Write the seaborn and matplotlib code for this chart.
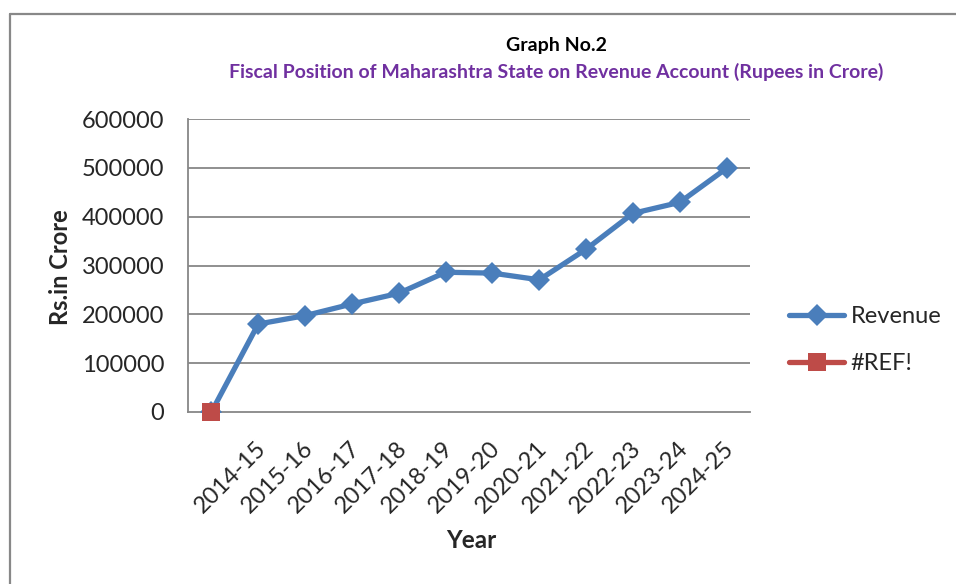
import numpy as np
import pandas as pd
import matplotlib
matplotlib.use("Agg")
import matplotlib.pyplot as plt
import matplotlib.transforms as mtransforms
from matplotlib.lines import Line2D
import seaborn as sns

# ---- data ----
categories = ["", "2014-15", "2015-16", "2016-17", "2017-18", "2018-19", "2019-20",
              "2020-21", "2021-22", "2022-23", "2023-24", "2024-25"]
revenue = [0, 180200, 197300, 221200, 243100, 286200, 284400, 270700,
           333300, 406800, 429300, 499000]
ref_err = [0] + [np.nan] * 11
y_ticks = [0, 100000, 200000, 300000, 400000, 500000, 600000]

title_top = "Graph No.2"
title_sub = "Fiscal Position of Maharashtra State on Revenue Account (Rupees in Crore)"
x_label = "Year"
y_label = "Rs.in Crore"

sns.set_style("white")
plt.rcParams["font.family"] = ["Lato", "DejaVu Sans"]

BLUE = "#4A7EBB"
RED = "#BE4B48"
GRID = "#878787"

pos = np.arange(len(categories))
df_rev = pd.DataFrame({"pos": pos, "value": revenue})
df_ref = pd.DataFrame({"pos": pos, "value": ref_err})

fig = plt.figure(figsize=(9.56, 5.84), dpi=100)
ax = fig.add_axes([188 / 956, 1 - 412 / 584, (750 - 188) / 956, (412 - 119) / 584])

sns.lineplot(data=df_rev, x="pos", y="value", ax=ax, color=BLUE, lw=3.8,
             marker="D", markersize=11.5, markeredgewidth=0, label="Revenue",
             zorder=3)
sns.lineplot(data=df_ref.dropna(), x="pos", y="value", ax=ax, color=RED, lw=3.8,
             marker="s", markersize=13.5, markeredgewidth=0, label="#REF!",
             zorder=4, legend=True)
ax.lines[-1].set_clip_on(False)

ax.set_xlim(-0.5, len(categories) - 0.5)
ax.set_ylim(0, 600000)
ax.set_yticks(y_ticks)
ax.set_yticklabels([str(v) for v in y_ticks], fontsize=17)
for y in y_ticks[1:]:
    ax.axhline(y, color=GRID, lw=1.3, zorder=1)

# category boundaries as major ticks, labels on minor ticks at centers
ax.set_xticks(np.arange(-0.5, len(categories), 1.0))
ax.set_xticklabels([])
ax.set_xticks(pos, minor=True)
ax.set_xticklabels(categories, minor=True, fontsize=17, rotation=45,
                   ha="right", va="top", rotation_mode="anchor")
ax.tick_params(axis="x", which="major", length=6, width=1.3, color=GRID, direction="out")
ax.tick_params(axis="x", which="minor", length=0, pad=18.5)
ax.tick_params(axis="y", length=6, width=1.3, color=GRID, direction="out", pad=11)
offset = mtransforms.ScaledTranslation(-3 / 100, 0, fig.dpi_scale_trans)
for lab in ax.get_xticklabels(minor=True):
    lab.set_transform(lab.get_transform() + offset)

for s in ["top", "right"]:
    ax.spines[s].set_visible(False)
for s in ["left", "bottom"]:
    ax.spines[s].set_color(GRID)
    ax.spines[s].set_linewidth(1.3)
ax.grid(False)

ax.set_xlabel(x_label, fontsize=17.5, fontweight="bold")
ax.xaxis.set_label_coords((471 - 188) / 562, -(529 - 412) / 293)
ax.set_ylabel(y_label, fontsize=17, fontweight="bold")
ax.yaxis.set_label_coords((72 - 188) / 562, (412 - 267) / 293)

fig.text(556 / 956, 1 - 45 / 584, title_top, ha="center", va="center",
         fontsize=14, fontweight="bold", color="black")
fig.text(556 / 956, 1 - 72 / 584, title_sub, ha="center", va="center",
         fontsize=14, fontweight="bold", color="#7030A0")

leg = ax.legend(loc="center left", bbox_to_anchor=(789 / 956, 1 - 340 / 584),
                bbox_transform=fig.transFigure, frameon=False, fontsize=17,
                handlelength=2.35, handletextpad=0.25, labelspacing=1.1,
                borderpad=0, borderaxespad=0)

# outer chart frame (cropped on right/bottom)
fig.add_artist(Line2D([10 / 956, 10 / 956], [0, 1 - 13.5 / 584], transform=fig.transFigure,
                      color="#888888", lw=1.6))
fig.add_artist(Line2D([10 / 956, 1], [1 - 13.5 / 584, 1 - 13.5 / 584], transform=fig.transFigure,
                      color="#888888", lw=1.6))

fig.savefig("out.png", dpi=100)
